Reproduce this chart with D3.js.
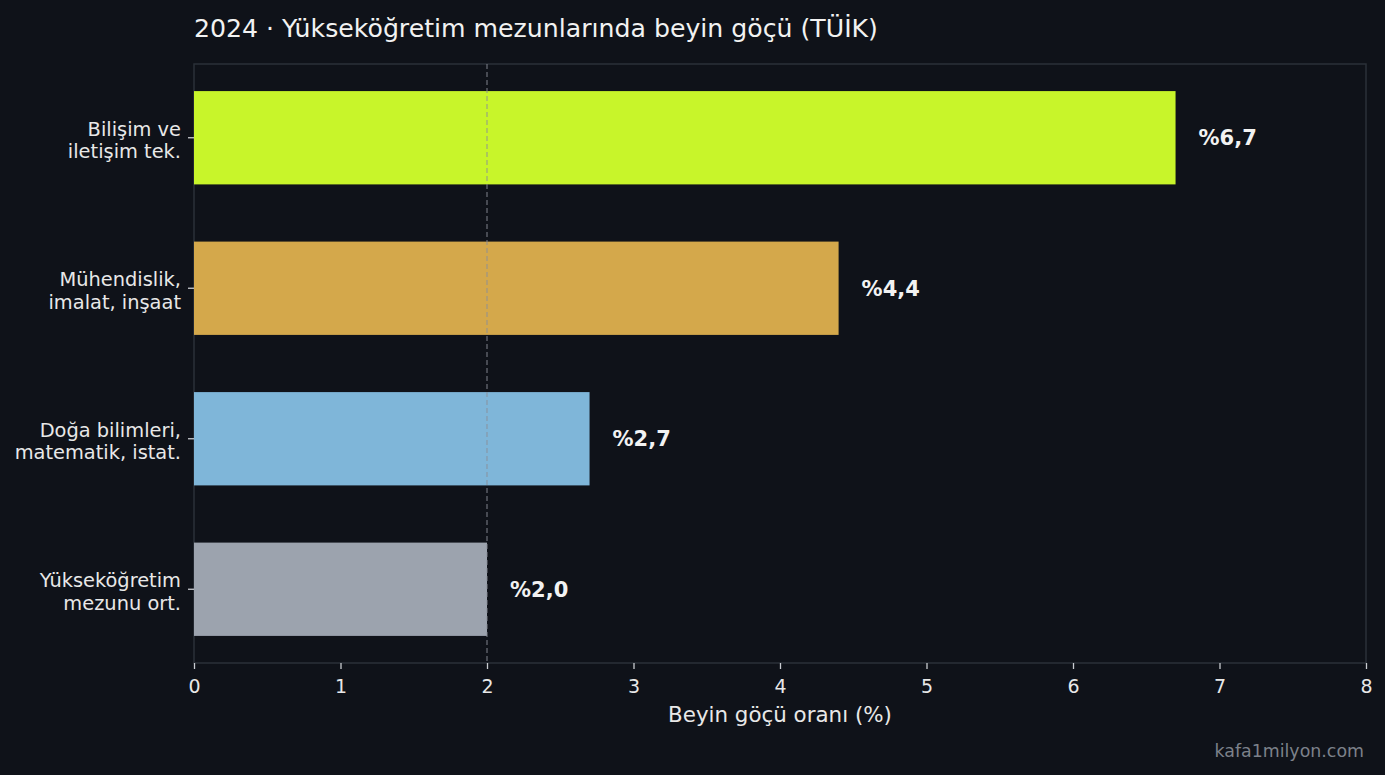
<!DOCTYPE html>
<html>
<head>
<meta charset="utf-8">
<script src="https://cdn.jsdelivr.net/npm/d3@7"></script>
<style>
  html, body { margin: 0; padding: 0; background: #0f1219; }
  svg { display: block; font-family: "DejaVu Sans", sans-serif; }
</style>
</head>
<body>
<svg width="1385" height="775"></svg>
<script>
const categories = [
  ['Bilişim ve', 'iletişim tek.'],
  ['Mühendislik,', 'imalat, inşaat'],
  ['Doğa bilimleri,', 'matematik, istat.'],
  ['Yükseköğretim', 'mezunu ort.']
];
const values = [6.7, 4.4, 2.7, 2.0];
const valueLabels = ['%6,7', '%4,4', '%2,7', '%2,0'];
const colors = ['#c8f52a', '#d4a84b', '#7fb6d9', '#9ca3ae'];
const xTicks = [0, 1, 2, 3, 4, 5, 6, 7, 8];
const refValue = 2.0;

const svg = d3.select('svg');
const width = +svg.attr('width');
const height = +svg.attr('height');
const m = { top: 64, right: 19, bottom: 112, left: 194 };
const pw = width - m.left - m.right;
const ph = height - m.top - m.bottom;

svg.append('rect').attr('width', width).attr('height', height).attr('fill', '#0f1219');

const x = d3.scaleLinear().domain([0, 8]).range([m.left, m.left + pw]);
const y = d3.scaleBand()
    .domain(d3.range(values.length))
    .range([m.top, m.top + ph])
    .paddingInner(0.38)
    .paddingOuter(0.18);

// frame
svg.append('rect')
    .attr('x', m.left).attr('y', m.top)
    .attr('width', pw).attr('height', ph)
    .attr('fill', 'none')
    .attr('stroke', '#2b3038')
    .attr('stroke-width', 1.5);

// bars
svg.selectAll('.bar')
  .data(values)
  .join('rect')
    .attr('x', x(0))
    .attr('y', (d, i) => y(i))
    .attr('width', d => x(d) - x(0))
    .attr('height', y.bandwidth())
    .attr('fill', (d, i) => colors[i]);

// reference line
svg.append('line')
    .attr('x1', x(refValue)).attr('x2', x(refValue))
    .attr('y1', m.top).attr('y2', m.top + ph)
    .attr('stroke', '#8a8f98')
    .attr('stroke-opacity', 0.7)
    .attr('stroke-width', 1.3)
    .attr('stroke-dasharray', '5,3');

// value labels
svg.selectAll('.val')
  .data(values)
  .join('text')
    .attr('x', d => x(d) + 23)
    .attr('y', (d, i) => y(i) + y.bandwidth() / 2)
    .attr('dy', '0.35em')
    .attr('fill', '#f2f2f2')
    .attr('font-size', 21)
    .attr('font-weight', 'bold')
    .text((d, i) => valueLabels[i]);

// x axis
const xAxis = svg.append('g')
    .attr('transform', `translate(0,${m.top + ph})`)
    .call(d3.axisBottom(x).tickValues(xTicks).tickSize(6).tickPadding(11).tickFormat(d3.format('d')));
xAxis.select('.domain').remove();
xAxis.selectAll('line').attr('stroke', '#c8cbd0').attr('stroke-width', 1.3);
xAxis.selectAll('text').attr('fill', '#e8e8e8').attr('font-size', 19).attr('font-family', '"DejaVu Sans", sans-serif');

svg.append('text')
    .attr('x', m.left + pw / 2)
    .attr('y', 722)
    .attr('text-anchor', 'middle')
    .attr('fill', '#e8e8e8')
    .attr('font-size', 21.4)
    .text('Beyin göçü oranı (%)');

// y axis
const yAxis = svg.append('g')
    .attr('transform', `translate(${m.left},0)`)
    .call(d3.axisLeft(y).tickSize(6).tickFormat(''));
yAxis.select('.domain').remove();
yAxis.selectAll('line').attr('stroke', '#c8cbd0').attr('stroke-width', 1.3);

const yl = svg.append('g');
categories.forEach((lines, i) => {
  const cy = y(i) + y.bandwidth() / 2 + 2.5;
  const t = yl.append('text')
      .attr('x', 181)
      .attr('y', cy)
      .attr('text-anchor', 'end')
      .attr('fill', '#e8e8e8')
      .attr('font-size', 19.4);
  lines.forEach((s, j) => {
    t.append('tspan')
        .attr('x', 181)
        .attr('y', cy + (j - (lines.length - 1) / 2) * 22.5)
        .attr('dy', '0.35em')
        .text(s);
  });
});

// title
svg.append('text')
    .attr('x', m.left)
    .attr('y', 37)
    .attr('fill', '#f2f2f2')
    .attr('font-size', 25.2)
    .text('2024 · Yükseköğretim mezunlarında beyin göçü (TÜİK)');

// footer
svg.append('text')
    .attr('x', 1364)
    .attr('y', 757)
    .attr('text-anchor', 'end')
    .attr('fill', '#7c818a')
    .attr('font-size', 17.4)
    .text('kafa1milyon.com');
</script>
</body>
</html>
